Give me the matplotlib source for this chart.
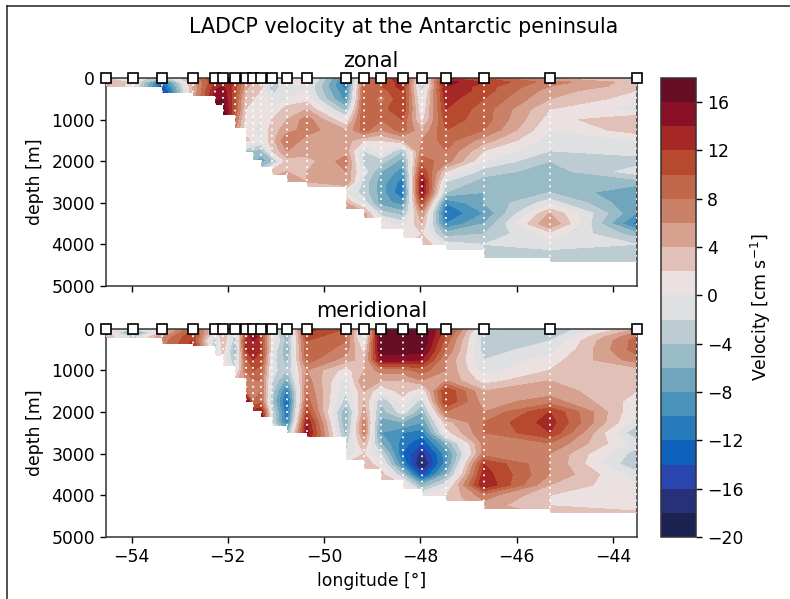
import numpy as np
from matplotlib import pyplot as plt
from matplotlib.colors import ListedColormap
from matplotlib.lines import Line2D

# station longitudes and depth levels
lon = [-54.53, -53.97, -53.36, -52.73, -52.27, -52.10, -51.85, -51.63, -51.47, -51.31, -51.08,
       -50.77, -50.36, -49.55, -49.17, -48.82, -48.37, -47.97, -47.47, -46.68, -45.31, -43.51]
depth = [0, 100, 200, 300, 500, 750, 1000, 1250, 1500, 1750, 2000, 2250, 2500,
         2750, 3000, 3250, 3500, 3750, 4000, 4250, 4500]
floor_depth = [220, 220, 370, 430, 650, 890, 1190, 1770, 1970, 2130, 2330,
               2510, 2610, 3150, 3370, 3640, 3850, 4010, 4130, 4330, 4430, 4430]

# velocity profiles in cm/s, one list per station, from the surface downward
zonal = [
    [2, 5, 4],
    [0, 1, 1],
    [-4, -12, -14, -16, -16],
    [6, 5, 4, 4, 4, 4],
    [12, 12, 13, 14, 15, 18, 18],
    [12, 13, 14, 15, 16, 17, 18],
    [12, 12, 11, 11, 10, 10, 8, 6, 6],
    [6, 6, 5, 4, 3, 2, 1, 1, 3, -4],
    [4, 4, 3, 3, 2, 1, 1, 0, 1, -4, -6],
    [3, 3, 3, 2, 2, 2, 0, 0, 0, -5, -7, -2],
    [-2, -3, -4, -3, -1, 0, 2, 3, 3, 2, -5, 3, 5],
    [1, 0, 0, 0, 0, 3, 4, 5, 8, 6, 3, 4, 5],
    [2, 1, 0, 0, 1, 4, 7, 7, 5, 5, 3, 4, 4, -1],
    [-10, -11, -11, -10, -9, -5, 0, 4, 5, 5, 7, 6, 6, 0, 4, 7],
    [5, 9, 9, 10, 10, 10, 10, 9, 2, -2, -3, -1, -3, -3, -1, 5],
    [11, 10, 10, 9, 7, 9, 8, 6, 2, 1, -3, -6, -7, -7, -7, -3, 1],
    [13, 13, 13, 12, 12, 12, 10, 9, 4, -4, -7, -9, -11, -12, -9, -5, -1, 1],
    [-1, -3, -4, -2, -1, 0, 1, 4, 6, 7, 9, 12, 15, 15, 11, 6, 4, 2, 4],
    [12, 15, 14, 14, 13, 12, 11, 10, 9, 8, 7, 2, -2, -4, -10, -12, -10, -5, -1, -1],
    [10, 12, 11, 11, 10, 9, 9, 8, 5, 2, 0, -3, -5, -6, -6, -8, -6, -4, -2, -2],
    [4, 7, 6, 5, 4, 2, 1, 0, -1, -2, -4, -5, -6, -4, -1, 4, 6, 1, -1, -3, -3],
    [4, 3, 3, 2, 1, -1, 4, 3, 0, -1, -3, -1, -5, -8, -8, -8, -11, -5, -2, -3, -4],
]
meridional = [
    [1, 3, 4],
    [-1, -10, -3],
    [1, 3, 6, 7, 7],
    [11, 11, 12, 12, 14, 14],
    [0, 1, -2, -4, -3, 1, 1],
    [2, 3, 4, 4, 3, 1, 1],
    [-1, -2, -3, -4, -6, -4, -2, 3, 4],
    [3, 8, 10, 12, 12, 9, 8, 6, 8, 18],
    [8, 14, 16, 14, 14, 12, 10, 8, 8, 8, 13],
    [6, 10, 11, 11, 12, 11, 9, 8, 8, 9, 14, 18],
    [1, 0, 1, 1, 0, -1, -1, -2, -3, -4, -2, -2, 6],
    [-7, -6, -6, -5, -6, -5, -4, -7, -11, -13, -12, -11, -6],
    [13, 12, 11, 10, 10, 9, 6, 7, 8, 9, 11, 14, 15, 13],
    [10, 9, 8, 8, 7, 5, 1, -1, -2, -3, -6, -6, -5, -3, -2, 2],
    [-1, -3, -2, -1, 1, 3, 4, 6, 4, 4, 5, 7, 7, 4, 2, 3],
    [18, 18, 18, 18, 17, 15, 7, 4, 0, -4, -5, -7, -8, -6, -2, 1, 3],
    [18, 18, 18, 18, 17, 15, 7, 4, 3, 1, -1, -6, -10, -11, -12, -10, -4, 2],
    [17, 18, 18, 18, 17, 14, 9, 6, 0, -3, -6, -8, -11, -14, -17, -19, -15, -6, 0],
    [12, 11, 10, 9, 8, 6, 6, 6, 12, 12, 8, 3, 1, -6, -9, -9, -6, -1, 2, 2],
    [-1, -3, -3, -3, -3, -2, -1, 1, 4, 5, 6, 8, 8, 7, 7, 12, 13, 14, 7, 5],
    [-4, -4, -3, -2, -1, 1, 2, 4, 5, 7, 12, 13, 12, 8, 6, 6, 6, 4, 2, 2, 4],
    [3, 6, 8, 9, 9, 7, 3, 2, 2, 1, 0, -1, -4, -1, -3, -4, -1, 0, 1, 1, 3],
]

levels = list(range(-20, 20, 2))
level_colors = ['#1c2351', '#27317a', '#2846ad', '#0e62bd', '#277bbb', '#4a93ba', '#6fa5bd',
                '#99bbc6', '#bdccd3', '#dfe0e2', '#ebe1e0', '#e1c1b7', '#d6a18f', '#cb8068',
                '#c2684a', '#b74a2e', '#a52826', '#8a1027', '#680d26']
xticks = [-54, -52, -50, -48, -46, -44]
yticks = [0, 1000, 2000, 3000, 4000, 5000]
cbar_ticks = list(range(-20, 18, 4))


def to_grid(profiles):
    # hold the deepest reading below the sea floor, the floor mask hides it anyway
    n = len(depth)
    return np.array([p + [p[-1]] * (n - len(p)) for p in profiles]).T


def plot_section(ax, profiles, title):
    cf = ax.contourf(lon, depth, to_grid(profiles), levels=levels,
                     cmap=ListedColormap(level_colors), vmin=-20, vmax=18)
    ax.fill_between(lon, floor_depth, 5000, step='post', color='white', lw=0, zorder=2)
    ax.vlines(lon, 0, floor_depth, colors='white', linestyles=(0, (1, 2.5)), lw=1.3, zorder=3)
    ax.plot(lon, [0] * len(lon), 's', mfc='white', mec='black', mew=1.2, ms=6.5,
            clip_on=False, zorder=5)
    ax.set_xlim(-54.53, -43.51)
    ax.set_ylim(5000, 0)
    ax.set_xticks(xticks)
    ax.set_yticks(yticks)
    ax.set_ylabel('depth [m]', labelpad=5)
    ax.set_title(title, fontsize=15, pad=8)
    ax.tick_params(length=4.5, width=1)
    return cf


plt.rcParams['font.size'] = 12.4
plt.rcParams['axes.linewidth'] = 1.1
plt.rcParams['axes.edgecolor'] = '#333333'

W, H = 790, 599
fig = plt.figure(figsize=(W / 100, H / 100), dpi=100)


def px_axes(x0, y0, x1, y1):
    return fig.add_axes([x0 / W, 1 - y1 / H, (x1 - x0) / W, (y1 - y0) / H])


ax1 = px_axes(106, 78, 636.5, 286)
ax2 = px_axes(106, 328.5, 636.5, 537)
cax = px_axes(661, 78, 696, 537)

cf = plot_section(ax1, zonal, 'zonal')
plot_section(ax2, meridional, 'meridional')
ax1.set_xticklabels([])
ax2.set_xlabel('longitude [°]')

cb = fig.colorbar(cf, cax=cax, ticks=cbar_ticks)
cb.set_label('Velocity [cm s$^{-1}$]')
cb.ax.tick_params(length=4.5, width=1)

fig.text(404 / W, 1 - 27 / H, 'LADCP velocity at the Antarctic peninsula',
         ha='center', va='center', fontsize=14.9)

# frame left over on the original screenshot
fig.add_artist(Line2D([7 / W, 7 / W], [0, 1 - 5.5 / H], color='#222222', lw=1.1))
fig.add_artist(Line2D([7 / W, 1], [1 - 5.5 / H, 1 - 5.5 / H], color='#222222', lw=1.1))

fig.savefig('out.png', dpi=100)
